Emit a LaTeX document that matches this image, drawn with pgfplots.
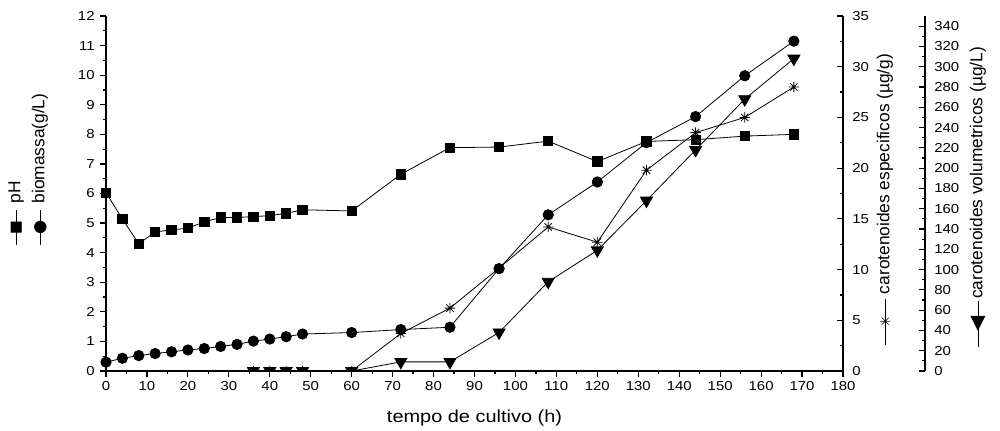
\documentclass[border=0pt]{standalone}
\usepackage{fontspec}
\setmainfont{Liberation Sans}
\newfontfamily\dejavu{DejaVu Sans}
\usepackage{graphicx}
\usepackage{pgfplots}
\pgfplotsset{compat=1.18}

\pgfdeclareplotmark{ast8}{%
  \pgfpathmoveto{\pgfqpoint{-\pgfplotmarksize}{0pt}}%
  \pgfpathlineto{\pgfqpoint{\pgfplotmarksize}{0pt}}%
  \pgfpathmoveto{\pgfqpoint{0pt}{-\pgfplotmarksize}}%
  \pgfpathlineto{\pgfqpoint{0pt}{\pgfplotmarksize}}%
  \pgfpathmoveto{\pgfqpoint{-0.7071\pgfplotmarksize}{-0.7071\pgfplotmarksize}}%
  \pgfpathlineto{\pgfqpoint{0.7071\pgfplotmarksize}{0.7071\pgfplotmarksize}}%
  \pgfpathmoveto{\pgfqpoint{-0.7071\pgfplotmarksize}{0.7071\pgfplotmarksize}}%
  \pgfpathlineto{\pgfqpoint{0.7071\pgfplotmarksize}{-0.7071\pgfplotmarksize}}%
  \pgfusepathqstroke}

\pgfplotstableread{
x ph
0 6.03
4 5.14
8 4.30
12 4.70
16 4.77
20 4.83
24 5.04
28 5.19
32 5.19
36 5.22
40 5.25
44 5.33
48 5.45
60 5.41
72 6.65
84 7.55
96 7.57
108 7.77
120 7.08
132 7.76
144 7.82
156 7.94
168 8.00
}\phdata
\pgfplotstableread{
x bio
0 0.30
4 0.43
8 0.52
12 0.59
16 0.65
20 0.71
24 0.76
28 0.83
32 0.90
36 1.01
40 1.08
44 1.16
48 1.25
60 1.30
72 1.40
84 1.48
96 3.46
108 5.28
120 6.39
132 7.72
144 8.60
156 9.98
168 11.15
}\biodata
\pgfplotstableread{
x esp
36 0
40 0
44 0
48 0
60 0
72 3.7
84 6.2
96 10.15
108 14.2
120 12.7
132 19.8
144 23.5
156 25.0
168 28.0
}\espdata
\pgfplotstableread{
x vol
36 0
40 0
44 0
48 0
60 0
72 9
84 9
96 38
108 88
120 119
132 168
144 218
156 268
168 308
}\voldata

\newcommand{\lab}{\fontsize{13}{15}\selectfont}
\newcommand{\sample}[3]{% length, glyph, height
  \rlap{\rule[2.95pt]{#1}{0.6pt}}\makebox[#1]{$\vcenter{\hbox{\resizebox{!}{#3}{\dejavu #2}}}$}}

\begin{document}
\begin{tikzpicture}
\useasboundingbox (0,0) rectangle (750pt,322.5pt);
\pgfplotsset{
  every axis/.append style={
    scale only axis, width=552.75pt, height=266.25pt,
    at={(79.5pt,44.25pt)}, anchor=south west,
    xmin=0, xmax=180,
    tick label style={font=\fontsize{9.75}{11}\selectfont, xscale=1.15},
    /pgf/number format/assume math mode=true,
    axis line style={line width=0.9pt},
    every tick/.style={line width=0.9pt, black},
    major tick length=4.5pt, minor tick length=2.6pt,
  },
  every axis plot/.append style={black, line width=0.6pt},
}
% pH and biomass
\begin{axis}[
  axis x line*=bottom, axis y line*=left,
  ymin=0, ymax=12, ytick={0,1,...,12}, minor y tick num=1,
  xtick={0,10,...,180}, minor x tick num=1,
  tick align=outside, clip=false,
  xlabel={tempo de cultivo (h)},
  xlabel style={font=\lab, xscale=1.15, at={(axis description cs:0.5,-0.132)}, anchor=center},
]
\addplot[mark=square*, mark size=3.5pt, mark options={solid}] table[x=x,y=ph]{\phdata};
\addplot[mark=*, mark size=3.9pt, mark options={solid}] table[x=x,y=bio]{\biodata};
\end{axis}
% carotenoides especificos
\begin{axis}[
  axis x line=none, axis y line*=right,
  ymin=0, ymax=35, ytick={0,5,...,35}, minor y tick num=1,
  tick align=inside, clip marker paths=true,
  yticklabel style={xshift=2.5pt},
]
\addplot[mark=ast8, mark size=3.9pt, mark options={solid}] table[x=x,y=esp]{\espdata};
\end{axis}
% carotenoides volumetricos
\begin{axis}[
  axis x line=none, axis y line*=right, axis y line shift=61.5pt,
  ymin=0, ymax=350, ytick={0,20,...,340}, minor y tick num=1,
  tick align=inside, clip marker paths=true,
  yticklabel style={xshift=2.5pt},
]
\addplot[mark=triangle*, mark size=5.2pt, mark options={solid, rotate=180}] table[x=x,y=vol]{\voldata};
\end{axis}
% rotated series labels
\node[rotate=90, anchor=base west, inner sep=0, font=\lab] at (15.25pt,138.75pt)
  {\sample{26pt}{■}{7pt}\hspace{5pt}pH};
\node[rotate=90, anchor=base west, inner sep=0, font=\lab] at (33.25pt,138.75pt)
  {\sample{26pt}{●}{7.8pt}\hspace{5pt}biomassa(g/L)};
\node[rotate=90, anchor=base west, inner sep=0, font=\lab] at (667pt,63.75pt)
  {\sample{34pt}{✳}{7.5pt}\hspace{4pt}carotenoides especificos (µg/g)};
\node[rotate=90, anchor=base west, inner sep=0, font=\lab] at (736.75pt,62.25pt)
  {\sample{34pt}{◀}{9.5pt}\hspace{2pt}carotenoides volumetricos (µg/L)};
\end{tikzpicture}
\end{document}
